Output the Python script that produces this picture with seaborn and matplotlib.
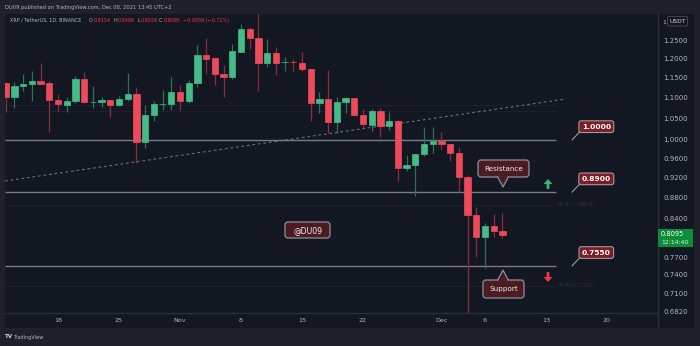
import matplotlib
matplotlib.use("Agg")
import numpy as np
import pandas as pd
import seaborn as sns
import matplotlib.pyplot as plt
import matplotlib.dates as mdates
from matplotlib.patches import Rectangle, Polygon, FancyArrow, FancyBboxPatch
from matplotlib.lines import Line2D
from matplotlib.transforms import Affine2D

# XRP / USDT daily candles, 12 Oct - 8 Dec 2021
dates = pd.date_range("2021-10-12", "2021-12-08", freq="D")
opens = [1.1357, 1.1007, 1.1281, 1.1331, 1.1408, 1.1357, 1.0934, 1.0813, 1.0910, 1.1459,
         1.0880, 1.0885, 1.0934, 1.0813, 1.0958, 1.1081, 0.9955, 1.0574, 1.0835, 1.0837,
         1.1131, 1.0910, 1.1357, 1.2089, 1.2008, 1.1587, 1.1510, 1.2170, 1.2812, 1.2557,
         1.1876, 1.2143, 1.1890, 1.1902, 1.1876, 1.1717, 1.0861, 1.0958, 1.0410, 1.0885,
         1.0983, 1.0574, 1.0340, 1.0669, 1.0317, 1.0433, 0.9394, 0.9457, 0.9692, 0.9911,
         0.9978, 0.9911, 0.9714, 0.9207, 0.8459, 0.8053, 0.8253, 0.8154]
highs = [1.1370, 1.1382, 1.1587, 1.1665, 1.1876, 1.1408, 1.1081, 1.1007, 1.1536, 1.1639,
         1.1281, 1.1007, 1.0940, 1.1032, 1.1613, 1.1256, 1.0813, 1.0910, 1.1181, 1.1510,
         1.1306, 1.1433, 1.2363, 1.2557, 1.2020, 1.1822, 1.2390, 1.2955, 1.2869, 1.3500,
         1.2529, 1.2307, 1.2036, 1.1982, 1.2170, 1.1730, 1.1131, 1.1691, 1.1007, 1.1007,
         1.0990, 1.0716, 1.0716, 1.0740, 1.0645, 1.0450, 0.9671, 0.9700, 1.0294, 1.0294,
         1.0180, 0.9920, 0.9845, 0.9249, 0.8611, 0.8309, 0.8478, 0.8499]
lows = [1.0645, 1.0740, 1.1156, 1.0910, 1.1320, 1.0180, 1.0645, 1.0645, 1.0861, 1.0861,
        1.0740, 1.0765, 1.0527, 1.0800, 1.0910, 0.9500, 0.9823, 1.0433, 1.0693, 1.0693,
        1.0693, 1.0861, 1.1256, 1.1587, 1.1306, 1.1007, 1.1459, 1.2160, 1.2252, 1.1156,
        1.1769, 1.1562, 1.1665, 1.1665, 1.1665, 1.0433, 1.0621, 1.0158, 1.0158, 1.0621,
        1.0560, 1.0271, 1.0203, 1.0067, 1.0226, 0.9125, 0.9331, 0.8825, 0.9649, 0.9714,
        0.9801, 0.9542, 0.8904, 0.6100, 0.7701, 0.7515, 0.8053, 0.8026]
closes = [1.1007, 1.1281, 1.1331, 1.1408, 1.1331, 1.0934, 1.0837, 1.0910, 1.1459, 1.0885,
          1.0890, 1.0934, 1.0813, 1.0958, 1.1081, 0.9955, 1.0574, 1.0837, 1.0845, 1.1131,
          1.0910, 1.1357, 1.2089, 1.1982, 1.1587, 1.1510, 1.2198, 1.2812, 1.2557, 1.1876,
          1.2143, 1.1876, 1.1902, 1.1890, 1.1717, 1.0861, 1.0958, 1.0410, 1.0885, 1.0983,
          1.0574, 1.0364, 1.0669, 1.0317, 1.0433, 0.9394, 0.9457, 0.9692, 0.9911, 0.9978,
          0.9911, 0.9714, 0.9207, 0.8459, 0.8053, 0.8253, 0.8154, 0.8095]

levels = [1.0000, 0.8900, 0.7550]
fib_levels = [1.0813, 1.0669, 0.8653, 0.7223]
fib_labels = ["", "", "61.8%(0.8653)", "78.6%(0.7223)"]
trend_dates = pd.to_datetime(["2021-10-11 22:00", "2021-12-15 06:00"])
trend_prices = [0.9125, 1.0958]

ytick_vals = [1.25, 1.20, 1.15, 1.10, 1.05, 1.00, 0.96, 0.92, 0.88, 0.84, 0.77, 0.74, 0.71, 0.682]
xtick_dates = pd.to_datetime(["2021-10-18", "2021-10-25", "2021-11-01", "2021-11-08", "2021-11-15",
                              "2021-11-22", "2021-12-01", "2021-12-06", "2021-12-13", "2021-12-20"])
xtick_labels = ["18", "25", "Nov", "8", "15", "22", "Dec", "6", "13", "20"]

BG = "#131722"
FRAME = "#1e212b"
UP, DOWN = "#45bb8a", "#ef4a5c"
UP_WICK, DOWN_WICK = "#2b7256", "#8a2d38"
GRAY = "#b2b5be"
CFILL, CEDGE = "#4c1b21", "#8e9099"

sns.set_theme(style="dark", rc={"axes.facecolor": BG, "figure.facecolor": FRAME})
plt.rcParams["font.family"] = ["DejaVu Sans"]

W, H = 700, 346
fig = plt.figure(figsize=(7, 3.46), dpi=100)
ax = fig.add_axes([5 / W, 1 - 313 / H, 653 / W, 299 / H])
T = Affine2D().scale(1 / W, -1 / H).translate(0, 1) + fig.transFigure  # pixel coords, y down

fig.patches.append(Rectangle((5, 14), 689, 314, transform=T, fc=BG, ec="none", zorder=-1))

ax.set_yscale("log")
df = pd.DataFrame({"date": dates, "open": opens, "high": highs, "low": lows, "close": closes})
up = (df.close >= df.open).values
ax.vlines(df.date, df.low, df.high, colors=np.where(up, UP_WICK, DOWN_WICK), lw=0.9, zorder=2)
ax.bar(df.date, (df.close - df.open).abs(), bottom=df[["open", "close"]].min(axis=1),
       width=0.72, color=np.where(up, UP, DOWN), edgecolor=np.where(up, UP, DOWN),
       linewidth=0.5, zorder=3)

px_day = 8.714
x0 = mdates.date2num(pd.Timestamp("2021-10-18")) - 53 / px_day
x1 = x0 + 653 / px_day
line_end = x0 + 551 / px_day
tip_x = x0 + 567 / px_day

# faint fib lines
ax.hlines(fib_levels, x0, line_end, colors="#1c202c", lw=0.8, zorder=1)
for lv, lb in zip(fib_levels, fib_labels):
    if lb:
        ax.text(line_end + 0.2, lv, lb, color="#2b2f3b", fontsize=3.6, va="center", ha="left")

sns.lineplot(x=trend_dates, y=trend_prices, ax=ax, color="#6b6f7b", lw=0.8,
             linestyle=(0, (2.5, 2.5)), zorder=1)
ax.hlines(levels, x0, line_end, colors="#787b86", lw=1.0, zorder=1)

for lv in levels:
    ax.annotate(f"{lv:.4f}", xy=(tip_x, lv), xytext=(17.5, 9.6), textcoords="offset points",
                ha="center", va="center", fontsize=5.4, fontweight="bold", color="white",
                bbox=dict(boxstyle="round,pad=0.38,rounding_size=0.3", fc="#7d1c22", ec="#9a9ca4", lw=0.8),
                arrowprops=dict(arrowstyle="-", color="#9a9ca4", lw=0.8, shrinkA=0, shrinkB=0, relpos=(0, 0)),
                annotation_clip=False, zorder=6)

ax.set_xlim(x0, x1)
ax.set_ylim(0.6796, 1.3248)
ax.grid(False)
for s in ax.spines.values():
    s.set_visible(False)
ax.set_xlabel("")
ax.set_ylabel("")

ax.yaxis.set_ticks_position("right")
ax.set_yticks(ytick_vals)
ax.set_yticklabels([f"{v:.4f}" for v in ytick_vals])
ax.yaxis.set_minor_locator(matplotlib.ticker.NullLocator())
ax.set_xticks(xtick_dates)
ax.set_xticklabels(xtick_labels)
ax.tick_params(axis="y", length=0, pad=3.6, labelsize=5, labelcolor=GRAY)
ax.tick_params(axis="x", length=0, pad=3.4, labelsize=4.6, labelcolor=GRAY)

# separators
fig.lines.append(Line2D([658, 658], [14, 328], transform=T, color="#2a2e39", lw=1))
fig.lines.append(Line2D([5, 658], [313, 313], transform=T, color="#2a2e39", lw=1))


def callout(text, bx0, by0, bx1, by1, tip=None, fs=5.2):
    fig.patches.append(FancyBboxPatch((bx0, by0), bx1 - bx0, by1 - by0,
                                      boxstyle="round,pad=0,rounding_size=3", transform=T,
                                      fc=CFILL, ec=CEDGE, lw=0.9, zorder=5))
    if tip:
        tx, ty = tip
        edge = by1 if ty > by1 else by0
        inner = edge - 0.9 if ty > by1 else edge + 0.9
        fig.patches.append(Polygon([(tx - 5, inner), (tx + 5, inner), (tx, ty)], closed=True,
                                   transform=T, fc=CFILL, ec="none", zorder=6))
        fig.lines.append(Line2D([tx - 5.3, tx, tx + 5.3], [edge, ty, edge], transform=T,
                                color=CEDGE, lw=0.9, zorder=7))
    fig.text((bx0 + bx1) / 2, (by0 + by1) / 2 + 0.3, text, transform=T, ha="center", va="center",
             color="#ececee", fontsize=fs, zorder=8)


callout("Resistance", 478, 160, 529, 177, tip=(503, 187))
callout("Support", 483, 280, 524, 298, tip=(503, 270))
callout("@DU09", 285, 222, 330, 238, fs=5.6)

fig.patches.append(FancyArrow(548, 189, 0, -10, width=2.8, head_width=9, head_length=5,
                              length_includes_head=True, transform=T, fc="#3bb27a", ec="none", zorder=5))
fig.patches.append(FancyArrow(548, 272, 0, 10, width=2.8, head_width=9, head_length=5,
                              length_includes_head=True, transform=T, fc="#f23645", ec="none", zorder=5))

# current price badge
fig.patches.append(Rectangle((658, 229), 35, 18, transform=T, fc="#0d8c3a", ec="none", zorder=5))
fig.text(661, 234, f"{closes[-1]:.4f}", transform=T, color="white", fontsize=4.8,
         va="center", ha="left", zorder=6)
fig.text(661, 242.5, "12:14:40", transform=T, color="#dff0e4", fontsize=4.4,
         va="center", ha="left", zorder=6)

# USDT box at the top of the price scale, with the clipped "1" of the hidden label
fig.text(662.5, 22, "1", transform=T, color=GRAY, fontsize=4.4, ha="left", va="center")
fig.patches.append(FancyBboxPatch((667.5, 16.5), 20, 9.5, boxstyle="round,pad=0,rounding_size=1.5",
                                  transform=T, fc=BG, ec="#434651", lw=0.7, zorder=5))
fig.text(677.5, 21.5, "USDT", transform=T, color="#d1d4dc", fontsize=4.3, ha="center", va="center", zorder=6)

# headers
fig.text(5, 7, "DU09 published on TradingView.com, Dec 08, 2021 13:45 UTC+2", transform=T,
         color=GRAY, fontsize=3.7, va="center", ha="left")
RED = "#f23645"
chg = closes[-1] - closes[-2]
segs = [(10, "XRP / TetherUS, 1D, BINANCE", GRAY),
        (89, "O", GRAY), (93.5, f"{opens[-1]:.4f}", RED),
        (113, "H", GRAY), (117.5, f"{highs[-1]:.4f}", RED),
        (137, "L", GRAY), (140.5, f"{lows[-1]:.4f}", RED),
        (159, "C", GRAY), (163.5, f"{closes[-1]:.4f}", RED),
        (183, f"{chg:.4f} ({chg / closes[-2] * 100:.2f}%)".replace("-", "\u2212"), RED)]
for sx, st, sc in segs:
    fig.text(sx, 20.5, st, transform=T, color=sc, fontsize=3.5, va="center", ha="left")

fig.text(5, 337, "TV", transform=T, color="#d1d4dc", fontsize=4, fontweight="bold", va="center", ha="left")
fig.text(13, 337, "TradingView", transform=T, color="#b2b5be", fontsize=3.6, va="center", ha="left")

fig.savefig("out.png", dpi=100, facecolor=FRAME)
